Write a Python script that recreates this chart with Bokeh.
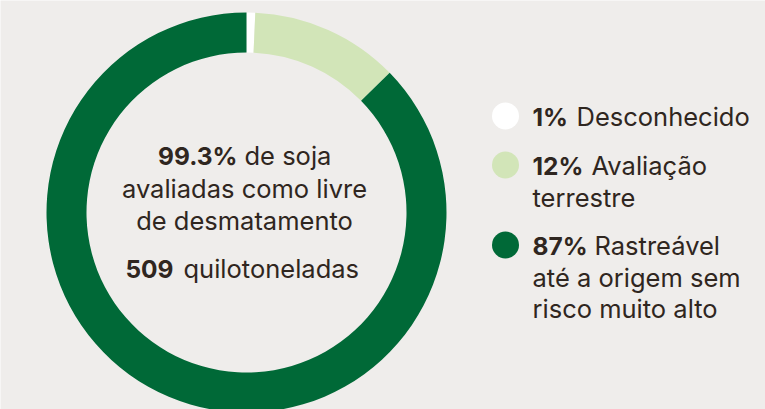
import numpy as np
from bokeh.plotting import figure
from bokeh.models import Range1d, ColumnDataSource
from bokeh.core.properties import value
from bokeh.embed import file_html
from bokeh.resources import INLINE

# ---- data ----
categories = ["Desconhecido", "Avaliação terrestre", "Rastreável até a origem sem risco muito alto"]
shares = [0.7, 12.0, 87.3]
pct_labels = ["1%", "12%", "87%"]
legend_lines = [["Desconhecido"], ["Avaliação", "terrestre"], ["Rastreável", "até a origem sem", "risco muito alto"]]
center_bold = ["99.3%", "509"]
center_rest = ["de soja", "quilotoneladas"]
center_mid_lines = ["avaliadas como livre", "de desmatamento"]

# ---- style ----
BG = "#efedeb"
COLORS = ["#ffffff", "#d2e5b8", "#006937"]
TXT = "#2f2620"
FONT = "Inter"
FS = "25.5px"
FS_BOLD = "24.5px"
DY = 10  # baseline correction for svg text

W, H = 765, 409
p = figure(width=W, height=H, output_backend="svg", toolbar_location=None,
           x_range=Range1d(0, W), y_range=Range1d(0, H), min_border=0)
p.axis.visible = False
p.grid.visible = False
p.outline_line_color = None
p.background_fill_color = BG
p.border_fill_color = BG

# donut
cx, cy = 246, 197
r_out, r_in = 200, 160
cum = np.concatenate([[0], np.cumsum(shares)])
total = cum[-1]
start = np.pi / 2 - cum[:-1] / total * 2 * np.pi
end = np.pi / 2 - cum[1:] / total * 2 * np.pi
src = ColumnDataSource(dict(start=start, end=end, color=COLORS, cat=categories))
p.annular_wedge(x=cx, y=cy, inner_radius=r_in, outer_radius=r_out,
                start_angle="start", end_angle="end", direction="clock",
                color="color", line_color=None, source=src)

def txt(x, y, s, bold=False, align="left"):
    p.text(x=x, y=[v + DY for v in y], text=s, text_font=value(FONT),
           text_font_size=FS_BOLD if bold else FS,
           text_font_style="bold" if bold else "normal", text_color=TXT,
           text_align=align, text_baseline="alphabetic")

# center text
txt([237], [244], [center_bold[0]], bold=True, align="right")
txt([244], [244], [center_rest[0]])
txt([244, 244], [211, 179], center_mid_lines, align="center")
txt([173], [131], [center_bold[1]], bold=True, align="right")
txt([183], [131], [center_rest[1]])

# legend
lx = 505
ltx = 532
first_base = [283, 234, 154]
rest_x = [576, 591, 594]
line_h = 31.5
for i in range(3):
    yb = first_base[i]
    p.scatter(x=[lx], y=[yb + 10.5], size=27, marker="circle", color=COLORS[i], line_color=None)
    txt([ltx], [yb], [pct_labels[i]], bold=True)
    lines = legend_lines[i]
    txt([rest_x[i]], [yb], [lines[0]])
    if len(lines) > 1:
        txt([ltx] * (len(lines) - 1), [yb - line_h * (k + 1) for k in range(len(lines) - 1)], lines[1:])

open("out.html", "w").write(file_html(p, INLINE))
